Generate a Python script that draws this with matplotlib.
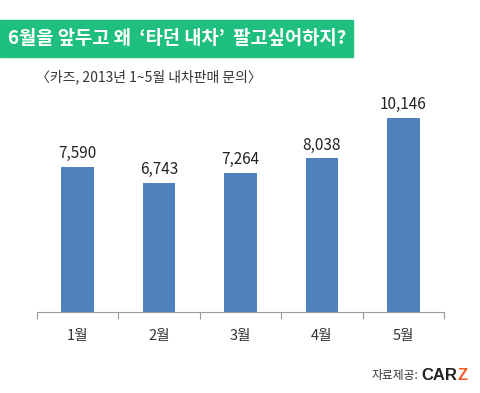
import matplotlib.pyplot as plt
from matplotlib.patches import Rectangle

plt.rcParams['font.family'] = ['Noto Sans CJK KR', 'DejaVu Sans']

months = ['1월', '2월', '3월', '4월', '5월']
inquiries = [7590, 6743, 7264, 8038, 10146]
value_labels = ['7,590', '6,743', '7,264', '8,038', '10,146']

title = '6월을 앞두고 왜  \u2018타던 내차\u2019  팔고싶어하지?'
subtitle = '〈카즈, 2013년 1~5월 내차판매 문의〉'

fig = plt.figure(figsize=(4.8, 3.93), dpi=100)
fig.patch.set_facecolor('white')

# 녹색 제목 띠
fig.patches.append(Rectangle((0, 1 - 57 / 393), 353 / 480, 37 / 393,
                             transform=fig.transFigure, color='#1fbf80', zorder=0))
fig.text(8 / 480, 1 - 39 / 393, title, color='white', fontsize=13.5,
         fontweight='bold', va='center', ha='left')
fig.text(36 / 480, 1 - 77 / 393, subtitle, color='#333333', fontsize=10,
         va='center', ha='left')

ax = fig.add_axes([37 / 480, 1 - 312 / 393, 407 / 480, 229 / 393])
x = range(len(months))
ax.bar(x, inquiries, width=0.4, color='#4f81bd', zorder=2)
for i, v in enumerate(inquiries):
    ax.text(i, v + 250, value_labels[i], ha='center', va='bottom',
            fontsize=11, color='#222222')

ax.set_xlim(-0.5, len(months) - 0.5)
ax.set_ylim(0, 11980)
for s in ['top', 'right', 'left']:
    ax.spines[s].set_visible(False)
ax.spines['bottom'].set_color('#999999')
ax.set_yticks([])
ax.set_xticks([i - 0.5 for i in range(len(months) + 1)], minor=False)
ax.set_xticklabels([])
ax.tick_params(axis='x', direction='out', length=5, color='#999999')
for i, m in enumerate(months):
    ax.text(i, -1250, m, ha='center', va='center', fontsize=10.5, color='#333333')

# 출처
fig.text(418 / 480, 1 - 375 / 393, '자료제공:', fontsize=8.5, color='#333333',
         ha='right', va='center')
car = fig.text(421 / 480, 1 - 375 / 393, 'CAR', fontsize=12, fontweight='bold',
               color='#222222', ha='left', va='center', family='Liberation Sans')
bb = car.get_window_extent(renderer=fig.canvas.get_renderer())
fig.text(bb.x1 / fig.bbox.width + 0.5 / 480, 1 - 375 / 393, 'Z', fontsize=12,
         fontweight='bold', color='#f05a28', ha='left', va='center',
         family='Liberation Sans')

plt.savefig('out.png', dpi=100)
